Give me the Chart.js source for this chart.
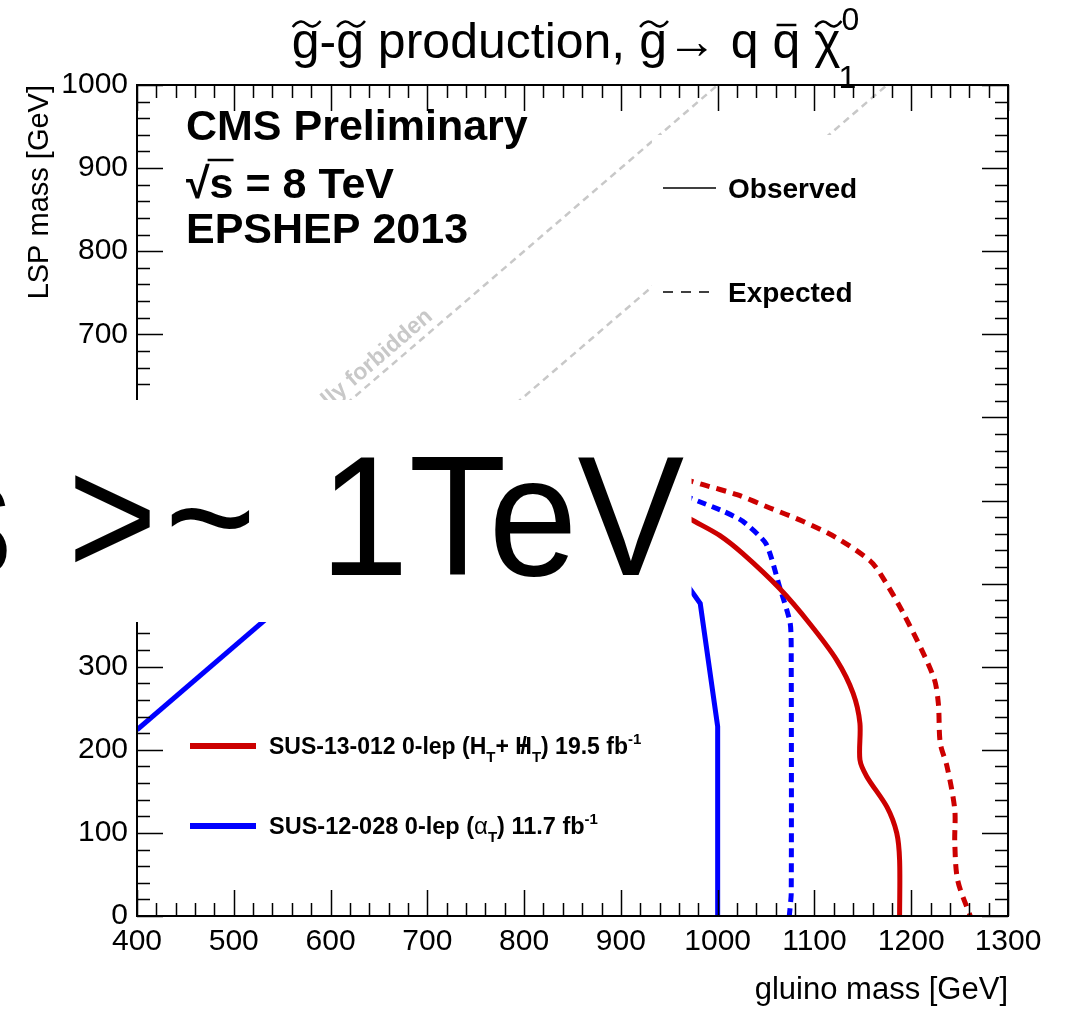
<!DOCTYPE html>
<html>
<head>
<meta charset="utf-8">
<script src="https://cdn.jsdelivr.net/npm/chart.js@4.4.0/dist/chart.umd.min.js"></script>
<style>
  body { margin: 0; background: #fff; }
  canvas { display: block; }
</style>
</head>
<body>
<canvas id="myChart" width="1072" height="1009"></canvas>
<script>
const FONT = '"Liberation Sans", Arial, Helvetica, sans-serif';

// axis tick labels
const xTickValues = [400, 500, 600, 700, 800, 900, 1000, 1100, 1200, 1300];
const yTickValues = [0, 100, 200, 300, 400, 500, 600, 700, 800, 900, 1000];

// SUS-13-012 0-lep (HT + MHT), observed / expected
const htObsGluino = [965, 976, 1002, 1026, 1064, 1095, 1123, 1140, 1147, 1147, 1154, 1175, 1185, 1188, 1188];
const htObsLsp    = [482, 475, 458, 436, 394, 352, 308, 268, 232, 188, 168, 131, 100, 67, 0];
const htExpGluino = [965, 985, 1020, 1054, 1088, 1123, 1157, 1168, 1192, 1223, 1228, 1230, 1237, 1245, 1245, 1248, 1261];
const htExpLsp    = [526, 519, 507, 491, 475, 455, 428, 412, 364, 288, 256, 208, 180, 128, 88, 43, 0];

// SUS-12-028 0-lep (alphaT), observed / expected
const atObsGluino = [965, 976, 982, 1000, 1000];
const atObsLsp    = [404, 386, 376, 228, 0];
const atObsLowGluino = [400, 600];
const atObsLowLsp    = [224, 424];
const atExpGluino = [965, 976, 1006, 1026, 1050, 1064, 1075, 1076, 1076, 1074];
const atExpLsp    = [506, 501, 487, 475, 448, 396, 352, 308, 27, 0];

// kinematic boundaries
const diagGluino  = [400, 1000];
const diagLsp     = [400, 1000];
const diag2Gluino = [575, 1175];
const diag2Lsp    = [400, 1000];

function pts(xs, ys) {
  return xs.map((v, i) => ({ x: v, y: ys[i] }));
}

function curve(xs, ys, color, dash, tension) {
  return {
    data: pts(xs, ys),
    showLine: true,
    borderColor: color,
    borderWidth: color === '#c8c8c8' ? 2.5 : 5,
    borderDash: dash,
    pointRadius: 0,
    tension: tension,
    fill: false
  };
}

// draw a row of text pieces (sub/superscripts), returns end x
function drawParts(ctx, parts, x, y) {
  for (const p of parts) {
    ctx.font = (p.w || 'bold') + ' ' + p.s + 'px ' + FONT;
    const w = ctx.measureText(p.t).width;
    ctx.fillText(p.t, x, y + (p.dy || 0));
    if (p.slash) {
      const ws = ctx.measureText('/').width;
      ctx.fillText('/', x + w / 2 - ws / 2, y + (p.dy || 0));
    }
    x += w;
  }
  return x;
}

function tilde(ctx, x1, x2, ty) {
  const L = x2 - x1;
  ctx.beginPath();
  ctx.moveTo(x1, ty + 3);
  ctx.quadraticCurveTo(x1 + L / 4, ty - 6, x1 + L / 2, ty);
  ctx.quadraticCurveTo(x1 + 3 * L / 4, ty + 6, x2, ty - 3);
  ctx.stroke();
}

// big text drawn horizontally squeezed, right aligned
function bigText(ctx, t, xr, sx) {
  ctx.save();
  ctx.translate(xr, 575);
  ctx.scale(sx, 1);
  ctx.font = '170px ' + FONT;
  ctx.textAlign = 'right';
  ctx.fillText(t, 0, 0);
  ctx.restore();
}

const overlay = {
  id: 'overlay',
  afterDraw(chart) {
    const { ctx, chartArea: a, scales: { x, y } } = chart;
    ctx.save();

    // frame and inward ticks
    ctx.strokeStyle = '#000';
    ctx.lineWidth = 2;
    ctx.strokeRect(a.left, a.top, a.right - a.left, a.bottom - a.top);
    ctx.lineWidth = 1.5;
    ctx.beginPath();
    for (let v = 400; v <= 1300; v += 20) {
      const px = Math.round(x.getPixelForValue(v)) + 0.5;
      const len = v % 100 === 0 ? 26 : 13;
      ctx.moveTo(px, a.bottom); ctx.lineTo(px, a.bottom - len);
      ctx.moveTo(px, a.top); ctx.lineTo(px, a.top + len);
    }
    for (let v = 0; v <= 1000; v += 20) {
      const py = Math.round(y.getPixelForValue(v)) + 0.5;
      const len = v % 100 === 0 ? 26 : 13;
      ctx.moveTo(a.left, py); ctx.lineTo(a.left + len, py);
      ctx.moveTo(a.right, py); ctx.lineTo(a.right - len, py);
    }
    ctx.stroke();

    // kinematically forbidden label along the diagonal
    const p0 = { x: x.getPixelForValue(400), y: y.getPixelForValue(400) };
    const p1 = { x: x.getPixelForValue(1000), y: y.getPixelForValue(1000) };
    const ang = Math.atan2(p1.y - p0.y, p1.x - p0.x);
    ctx.save();
    ctx.translate(x.getPixelForValue(712), y.getPixelForValue(712));
    ctx.rotate(ang);
    ctx.fillStyle = '#c8c8c8';
    ctx.font = 'bold 23px ' + FONT;
    ctx.textAlign = 'right';
    ctx.textBaseline = 'alphabetic';
    ctx.fillText('kinematically forbidden', 0, -8);
    ctx.restore();

    // observed / expected legend
    ctx.fillStyle = '#fff';
    ctx.fillRect(652, 135, 250, 190);
    ctx.strokeStyle = '#000';
    ctx.lineWidth = 1.5;
    ctx.beginPath(); ctx.moveTo(663, 188); ctx.lineTo(716, 188); ctx.stroke();
    ctx.setLineDash([10, 8]);
    ctx.beginPath(); ctx.moveTo(663, 292); ctx.lineTo(712, 292); ctx.stroke();
    ctx.setLineDash([]);
    ctx.fillStyle = '#000';
    ctx.textAlign = 'left';
    ctx.textBaseline = 'alphabetic';
    ctx.font = 'bold 28px ' + FONT;
    ctx.fillText('Observed', 728, 198);
    ctx.fillText('Expected', 728, 302);

    // CMS label
    ctx.font = 'bold 43px ' + FONT;
    ctx.fillText('CMS Preliminary', 186, 140);
    const wRoot = ctx.measureText('\u221A').width;
    ctx.fillText('\u221A', 186, 198);
    ctx.fillText('s = 8 TeV', 186 + wRoot, 198);
    const wS = ctx.measureText('s').width;
    ctx.lineWidth = 2.5;
    ctx.beginPath(); ctx.moveTo(186 + wRoot - 2, 160); ctx.lineTo(186 + wRoot + wS, 160); ctx.stroke();
    ctx.fillText('EPSHEP 2013', 186, 243);

    // analysis legend
    ctx.lineWidth = 6;
    ctx.strokeStyle = '#cc0000';
    ctx.beginPath(); ctx.moveTo(190, 746); ctx.lineTo(256, 746); ctx.stroke();
    ctx.strokeStyle = '#0000ff';
    ctx.beginPath(); ctx.moveTo(190, 826); ctx.lineTo(256, 826); ctx.stroke();
    ctx.fillStyle = '#000';
    drawParts(ctx, [
      { t: 'SUS-13-012 0-lep (H', s: 23 },
      { t: 'T', s: 15, dy: 8 },
      { t: '+ ', s: 23 },
      { t: 'H', s: 23, slash: true },
      { t: 'T', s: 15, dy: 8 },
      { t: ') 19.5 fb', s: 23 },
      { t: '-1', s: 15, dy: -10 }
    ], 269, 754);
    drawParts(ctx, [
      { t: 'SUS-12-028 0-lep (', s: 23.5 },
      { t: '\u03B1', s: 24, w: 'normal' },
      { t: 'T', s: 15, dy: 8 },
      { t: ') 11.7 fb', s: 23.5 },
      { t: '-1', s: 15, dy: -10 }
    ], 269, 834);

    // white slide box with the big statement
    ctx.fillStyle = '#fff';
    ctx.fillRect(0, 400, x.getPixelForValue(973), 222);
    ctx.fillStyle = '#000';
    bigText(ctx, 's', 12, 0.874);
    bigText(ctx, '>', 157, 0.9);
    bigText(ctx, '~', 256, 0.92);
    bigText(ctx, '1TeV', 684, 0.94);

    // title, with tildes and bar drawn as accents
    const T = 50;
    const pieces = [
      { t: 'g', acc: 'tilde' }, { t: '-' }, { t: 'g', acc: 'tilde' },
      { t: ' production, ' }, { t: 'g', acc: 'tilde' }, { t: '\u2192' },
      { t: ' q ' }, { t: 'q', acc: 'bar' }, { t: ' ' }, { t: '\u03C7', acc: 'tilde' }
    ];
    ctx.font = T + 'px ' + FONT;
    ctx.textAlign = 'left';
    let total = 0;
    pieces.forEach(p => { p.w = ctx.measureText(p.t).width; total += p.w; });
    ctx.font = '32px ' + FONT;
    const wSup = ctx.measureText('0').width;
    let tx = 575 - (total + wSup) / 2;
    ctx.strokeStyle = '#000';
    ctx.lineWidth = 2.5;
    pieces.forEach(p => {
      ctx.font = T + 'px ' + FONT;
      ctx.fillText(p.t, tx, 58);
      if (p.acc === 'tilde') tilde(ctx, tx + 1, tx + p.w + 1, 24);
      if (p.acc === 'bar') {
        ctx.beginPath(); ctx.moveTo(tx + 4, 25); ctx.lineTo(tx + p.w - 4, 25); ctx.stroke();
      }
      tx += p.w;
    });
    ctx.font = '32px ' + FONT;
    ctx.fillText('0', tx + 1, 30);
    ctx.fillText('1', tx - 2, 88);

    ctx.restore();
  }
};

new Chart(document.getElementById('myChart'), {
  type: 'scatter',
  data: {
    datasets: [
      curve(diagGluino, diagLsp, '#c8c8c8', [7, 5], 0),
      curve(diag2Gluino, diag2Lsp, '#c8c8c8', [7, 5], 0),
      curve(htObsGluino, htObsLsp, '#cc0000', [], 0.3),
      curve(htExpGluino, htExpLsp, '#cc0000', [10, 7], 0.3),
      curve(atObsGluino, atObsLsp, '#0000ff', [], 0),
      curve(atObsLowGluino, atObsLowLsp, '#0000ff', [], 0),
      curve(atExpGluino, atExpLsp, '#0000ff', [9, 6], 0.2)
    ]
  },
  options: {
    responsive: false,
    animation: false,
    layout: { padding: { left: 0, right: 64, top: 85, bottom: 0 } },
    plugins: { legend: { display: false }, tooltip: { enabled: false } },
    scales: {
      x: {
        type: 'linear', min: 400, max: 1300,
        afterBuildTicks: s => { s.ticks = xTickValues.map(v => ({ value: v })); },
        afterFit: s => { s.height = 93; },
        grid: { display: false, drawTicks: false },
        border: { display: false },
        ticks: { color: '#000', padding: 8, maxRotation: 0, font: { family: FONT, size: 30 }, callback: v => String(v) },
        title: { display: true, text: 'gluino mass [GeV]', align: 'end', color: '#000', padding: { top: 0, bottom: 0 }, font: { family: FONT, size: 31 } }
      },
      y: {
        type: 'linear', min: 0, max: 1000,
        afterBuildTicks: s => { s.ticks = yTickValues.map(v => ({ value: v })); },
        afterFit: s => { s.width = 137; },
        grid: { display: false, drawTicks: false },
        border: { display: false },
        ticks: { color: '#000', padding: 9, font: { family: FONT, size: 30 }, callback: v => String(v) },
        title: { display: true, text: 'LSP mass [GeV]', align: 'end', color: '#000', padding: { top: 23, bottom: 0 }, font: { family: FONT, size: 29 } }
      }
    }
  },
  plugins: [overlay]
});
</script>
</body>
</html>
